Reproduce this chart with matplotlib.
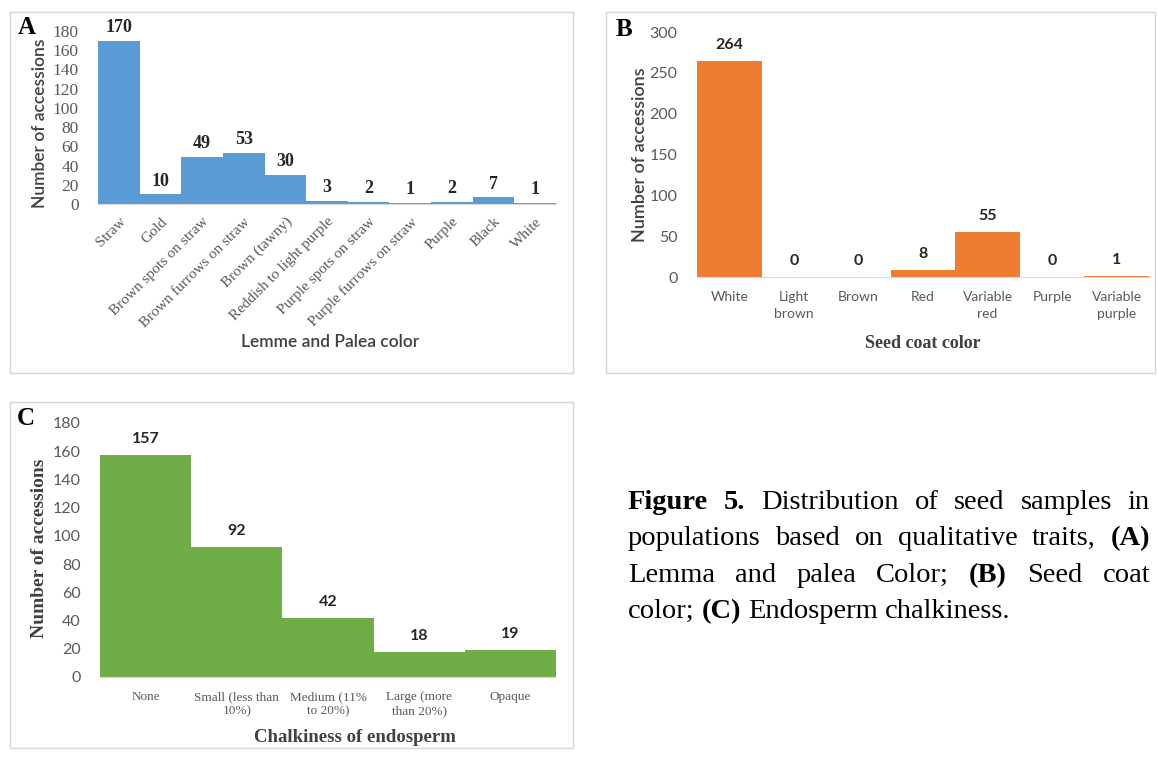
import numpy as np
import matplotlib
matplotlib.use("Agg")
import matplotlib.pyplot as plt
from matplotlib.patches import Rectangle

W, H = 1157, 761
SERIF = "Liberation Serif"
SANS = "Lato"

# data
lemma_cats = ["Straw", "Gold", "Brown spots on straw", "Brown furrows on straw",
              "Brown (tawny)", "Reddish to light purple", "Purple spots on straw",
              "Purple furrows on straw", "Purple", "Black", "White"]
lemma_vals = [170, 10, 49, 53, 30, 3, 2, 1, 2, 7, 1]

coat_cats = ["White", "Light\nbrown", "Brown", "Red", "Variable\nred", "Purple",
             "Variable\npurple"]
coat_vals = [264, 0, 0, 8, 55, 0, 1]

chalk_cats = ["None", "Small (less than\n10%)", "Medium (11%\nto 20%)",
              "Large (more\nthan 20%)", "Opaque"]
chalk_vals = [157, 92, 42, 18, 19]


def box(l, t, r, b):
    return [l / W, 1 - b / H, (r - l) / W, (b - t) / H]


def fx(x):
    return x / W


def fy(y):
    return 1 - y / H


fig = plt.figure(figsize=(W / 100, H / 100), dpi=100)

# panel frames
for l, t, r, b in [(10, 12, 573, 373), (606, 12, 1155, 373), (10, 402, 573, 748)]:
    fig.patches.append(Rectangle((fx(l), fy(b)), fx(r - l), (b - t) / H,
                                 transform=fig.transFigure, fill=False,
                                 edgecolor="#d6d6d6", lw=1.0))


def bar_panel(rect, cats, vals, color, ymax, ystep, tickfont, tsize, valfont,
              valsize, valoff, catfont, catsize, rot=0, linesp=1.2):
    ax = fig.add_axes(rect)
    x = np.arange(len(vals))
    ax.bar(x, vals, width=1.0, color=color, edgecolor="none")
    ax.set_xlim(-0.5, len(vals) - 0.5)
    ax.set_ylim(0, ymax)
    ax.set_yticks(np.arange(0, ymax + 1, ystep))
    for s in ["top", "right", "left"]:
        ax.spines[s].set_visible(False)
    ax.spines["bottom"].set_color("#d9d9d9")
    ax.tick_params(length=0)
    ax.tick_params(axis="y", pad=14, labelcolor="#595959")
    for lab in ax.get_yticklabels():
        lab.set_family(tickfont)
        lab.set_fontsize(tsize)
    ax.set_xticks(x)
    if rot:
        ax.set_xticklabels(cats, rotation=rot, ha="right", rotation_mode="anchor",
                           family=catfont, fontsize=catsize, color="#595959")
        ax.tick_params(axis="x", pad=8)
    else:
        ax.set_xticklabels(cats, family=catfont, fontsize=catsize, color="#595959",
                           linespacing=linesp)
        ax.tick_params(axis="x", pad=10)
    for i, v in enumerate(vals):
        ax.annotate(str(v), (i, v), xytext=(0, valoff), textcoords="offset points",
                    ha="center", va="center", family=valfont, fontsize=valsize,
                    weight="bold", color="#262626")
    return ax


# A
bar_panel(box(98, 31, 556, 204), lemma_cats, lemma_vals, "#5b9bd5", 180, 20,
          SERIF, 12.5, SERIF, 13, 9.5, SERIF, 11, rot=45)
fig.text(fx(40), fy(123), "Number of accessions", rotation=90, ha="center",
         va="center", family=SANS, fontsize=12.5, weight="semibold", color="#404040")
fig.text(fx(330), fy(342), "Lemme and Palea color", ha="center", va="center",
         family=SANS, fontsize=12.5, weight="semibold", color="#404040")
fig.text(fx(27), fy(27), "A", ha="center", va="center", family=SERIF,
         fontsize=18, weight="bold")

# B
bar_panel(box(697, 32, 1149, 277), coat_cats, coat_vals, "#ed7d31", 300, 50,
          SANS, 11.5, SANS, 11.5, 11.5, SANS, 10, linesp=1.5)
fig.text(fx(640), fy(155), "Number of accessions", rotation=90, ha="center",
         va="center", family=SANS, fontsize=13, weight="semibold", color="#404040")
fig.text(fx(923), fy(343), "Seed coat color", ha="center", va="center",
         family=SERIF, fontsize=13, weight="bold", color="#404040")
fig.text(fx(624), fy(29), "B", ha="center", va="center", family=SERIF,
         fontsize=18, weight="bold")

# C
bar_panel(box(100, 423, 556, 677), chalk_cats, chalk_vals, "#70ad47", 180, 20,
          SANS, 11.5, SANS, 11.5, 11.5, SERIF, 9.5, linesp=1.3)
fig.text(fx(40), fy(548), "Number of accessions", rotation=90, ha="center",
         va="center", family=SERIF, fontsize=14, weight="bold", color="#404040")
fig.text(fx(355), fy(737), "Chalkiness of endosperm", ha="center", va="center",
         family=SERIF, fontsize=13.5, weight="bold", color="#404040")
fig.text(fx(26), fy(419), "C", ha="center", va="center", family=SERIF,
         fontsize=18, weight="bold")

# caption, justified
cap_lines = [
    [("Figure", 1), ("5.", 1), ("Distribution", 0), ("of", 0), ("seed", 0),
     ("samples", 0), ("in", 0)],
    [("populations", 0), ("based", 0), ("on", 0), ("qualitative", 0),
     ("traits,", 0), ("(A)", 1)],
    [("Lemma", 0), ("and", 0), ("palea", 0), ("Color;", 0), ("(B)", 1),
     ("Seed", 0), ("coat", 0)],
    [("color;", 0), ("(C)", 1), ("Endosperm", 0), ("chalkiness.", 0)],
]
cap_left, cap_right = 628, 1150
cap_base = [509, 545, 582, 618]
cap_size = 20.5
renderer = fig.canvas.get_renderer()
for li, words in enumerate(cap_lines):
    texts = []
    for w, b in words:
        t = fig.text(0, fy(cap_base[li]), w, family=SERIF, fontsize=cap_size,
                     weight="bold" if b else "normal", va="baseline", ha="left")
        texts.append(t)
    widths = [t.get_window_extent(renderer).width for t in texts]
    if li < len(cap_lines) - 1:
        gap = (cap_right - cap_left - sum(widths)) / (len(texts) - 1)
    else:
        gap = 0.25 * cap_size * 100 / 72
    x = cap_left
    for t, wd in zip(texts, widths):
        t.set_x(fx(x))
        x += wd + gap

fig.savefig("out.png", dpi=100)
